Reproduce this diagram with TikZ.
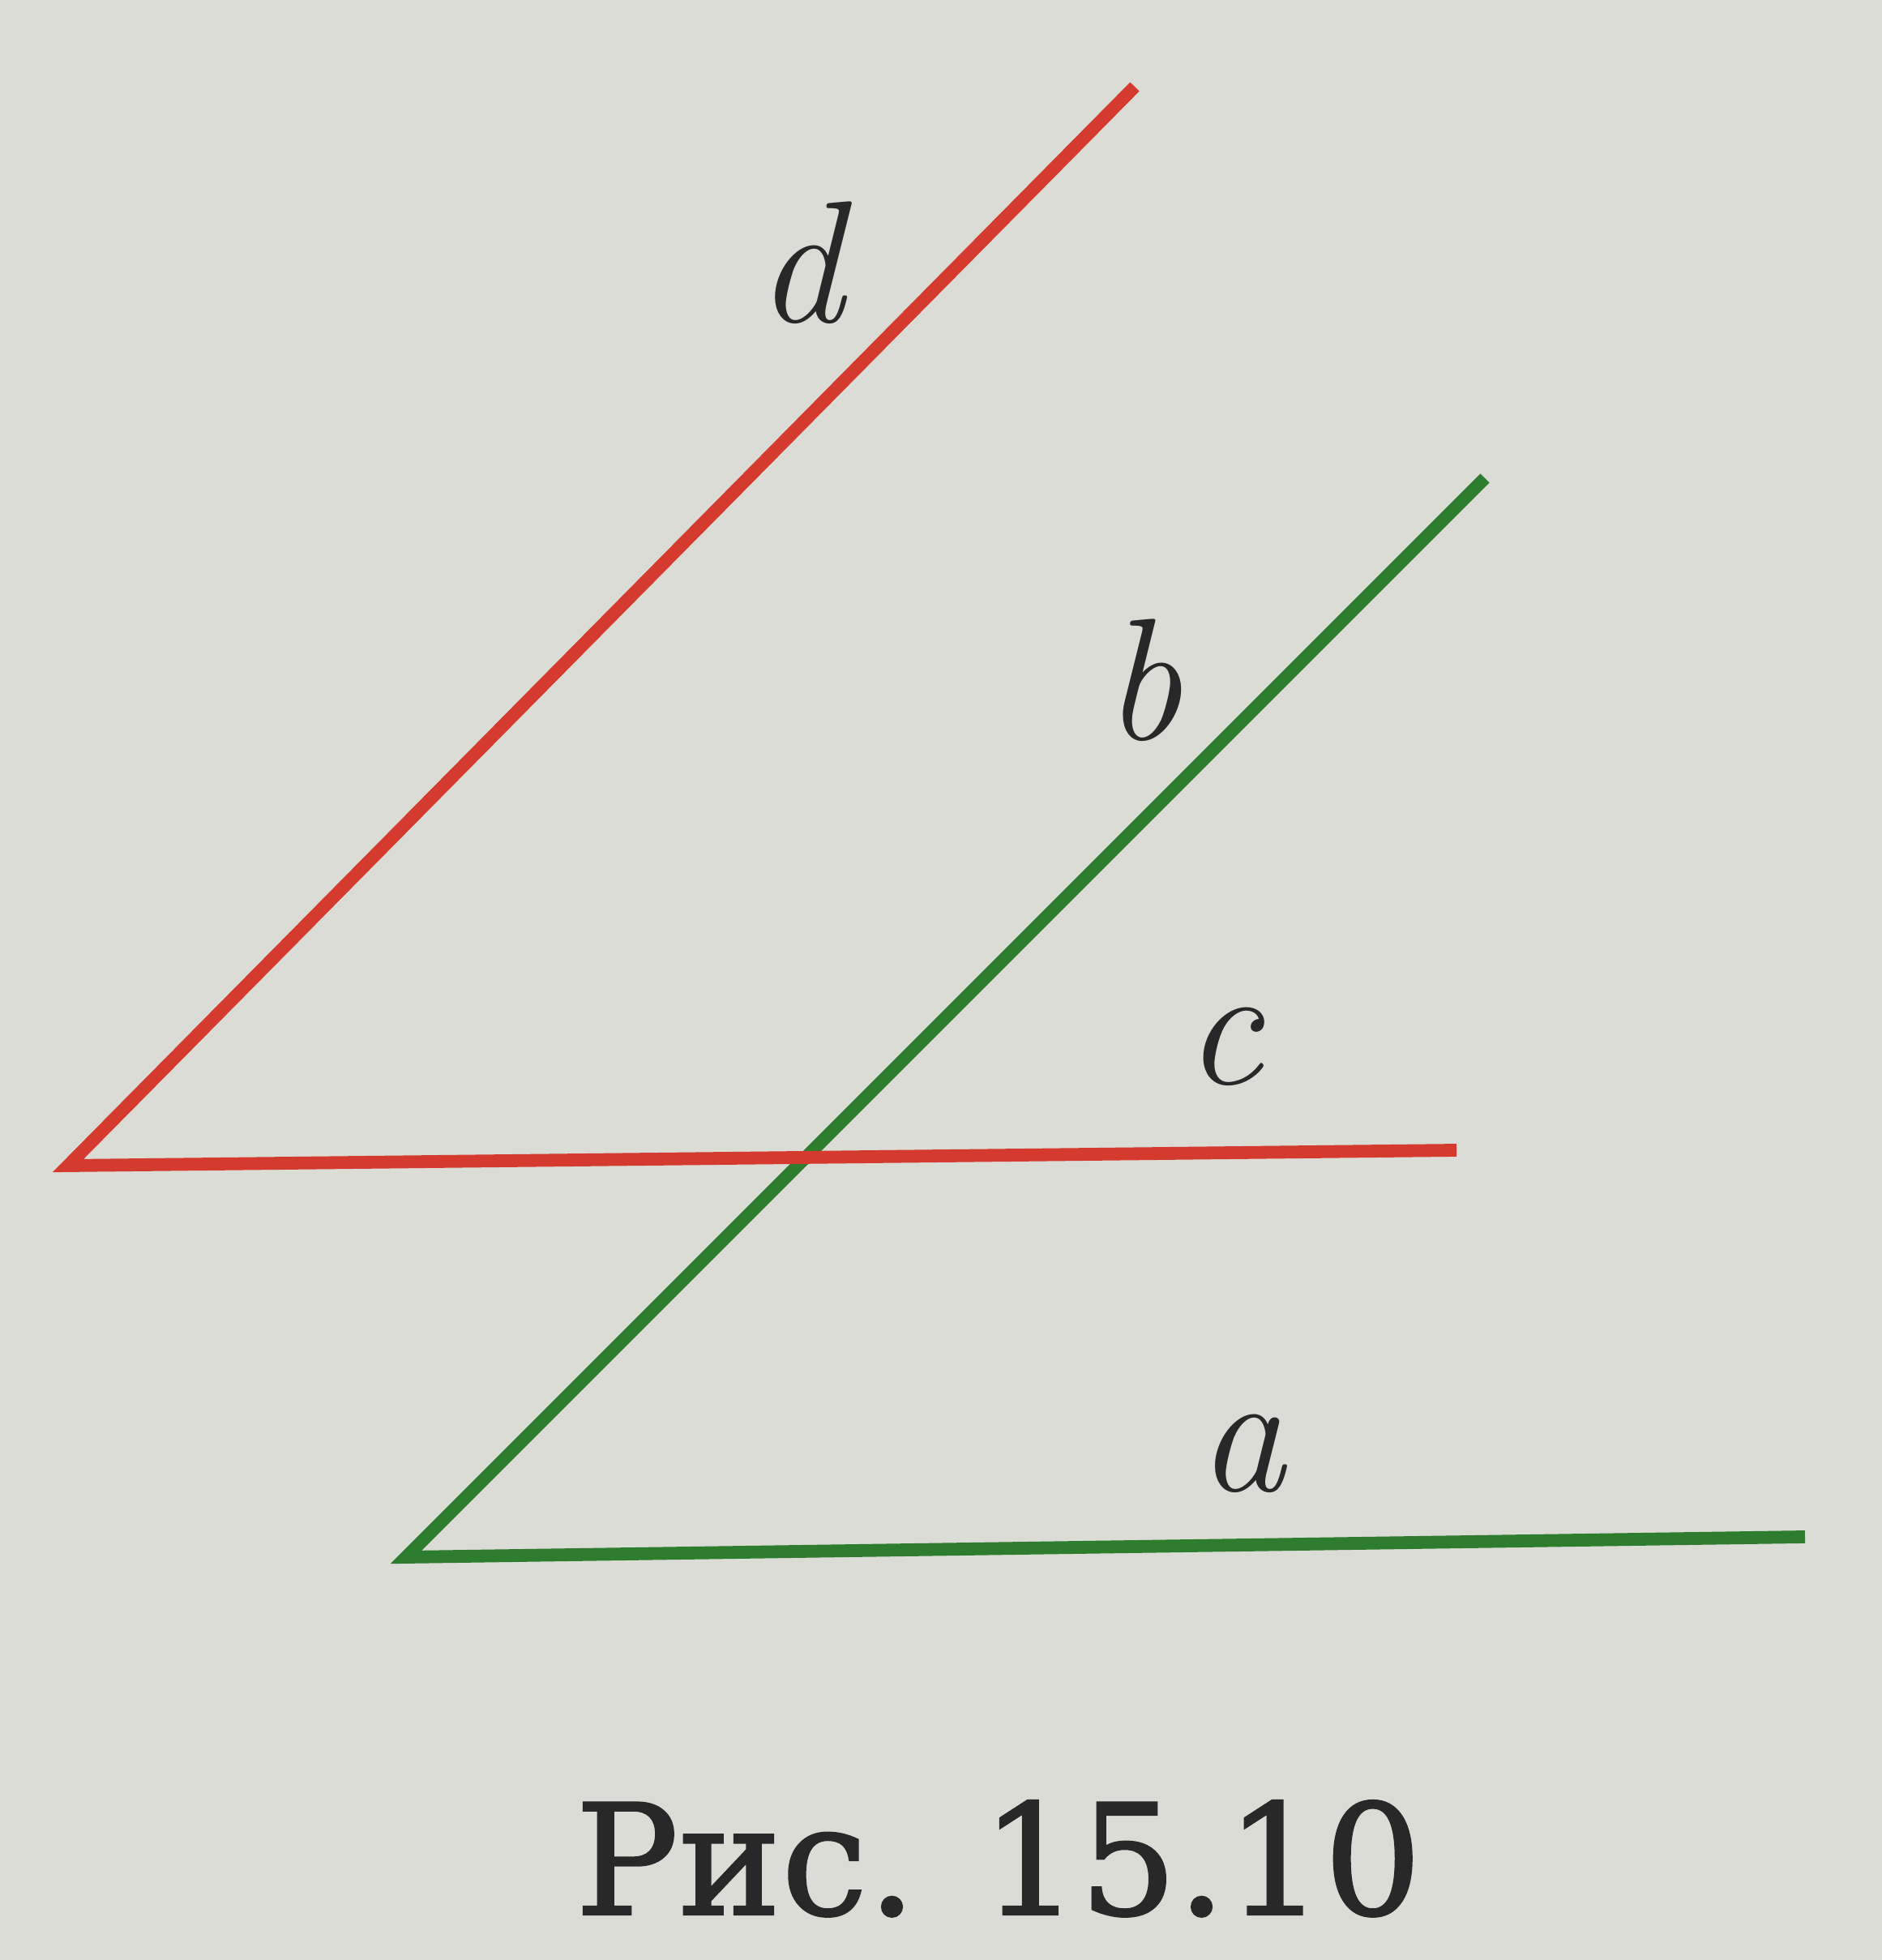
\documentclass[tikz,border=0pt]{standalone}
\usepackage{fontspec}
\usepackage{tikz}
\newfontfamily\capfont[FakeBold=1.3]{DejaVu Serif}
\definecolor{paper}{RGB}{220,220,215}
\definecolor{redline}{RGB}{212,58,46}
\definecolor{greenline}{RGB}{46,124,46}
\definecolor{ink}{RGB}{40,40,40}
\tikzset{
	redpair/.style={draw=redline, line width=4.5pt, line join=miter},
	greenpair/.style={draw=greenline, line width=4.5pt, line join=miter},
	linename/.style={text=ink, anchor=base, font=\fontsize{61}{64}\selectfont\itshape}
}

\begin{document}
\begin{tikzpicture}
	\fill[paper] (0,0) rectangle (23.22,24.18);
	\useasboundingbox (0,0) rectangle (23.22,24.18);
	\coordinate (rv) at (0.84,9.80);
	\coordinate (dend) at (14.00,23.11);
	\coordinate (cend) at (17.97,9.99);
	\coordinate (gv) at (5.01,4.97);
	\coordinate (bend) at (18.32,18.28);
	\coordinate (aend) at (22.27,5.22);
	\path[greenpair] (bend) -- (gv) -- (aend);
	\path[redpair] (dend) -- (rv) -- (cend);
	\node[linename] at (9.87,20.20) (d) {d};
	\node[linename] at (14.10,15.05) (b) {b};
	\node[linename] at (15.10,10.80) (c) {c};
	\node[linename] at (15.32,5.78) (a) {a};
	\node[text=ink, anchor=base] at (12.32,0.56) (cap) {\capfont\fontsize{54}{60}\selectfont Рис. 15.10};
\end{tikzpicture}
\end{document}
